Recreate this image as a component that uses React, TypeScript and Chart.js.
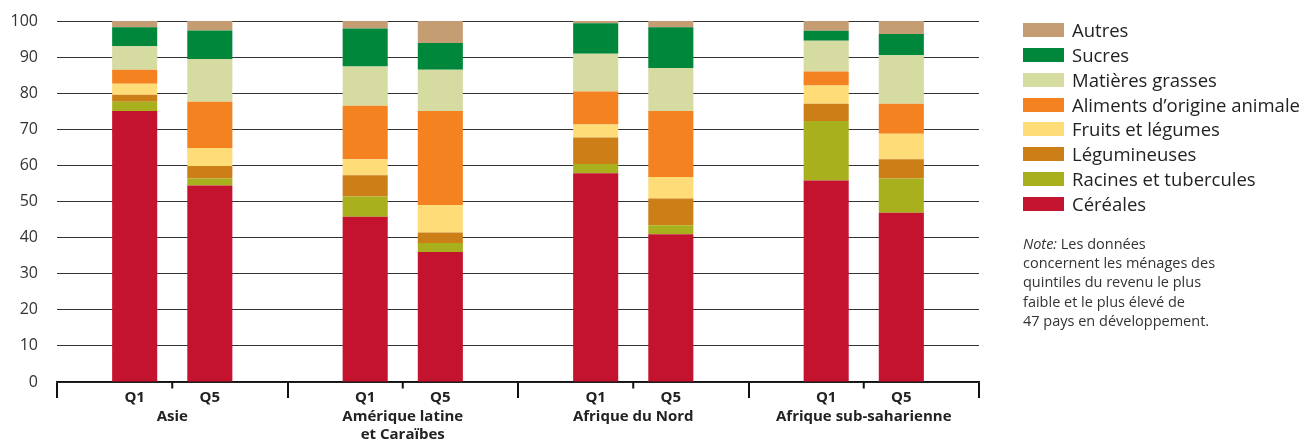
import React, { useEffect, useRef } from "react";
import { Chart, registerables } from "chart.js";

Chart.register(...registerables);

const regions = ["Asie", ["Amérique latine", "et Caraïbes"], "Afrique du Nord", "Afrique sub-saharienne"];
const quintiles = ["Q1", "Q5"];

// Food groups, bottom to top
const groups = [
  "Céréales",
  "Racines et tubercules",
  "Légumineuses",
  "Fruits et légumes",
  "Aliments d’origine animale",
  "Matières grasses",
  "Sucres",
  "Autres",
];
const colors = ["#C4132F", "#A8B11D", "#CD7F17", "#FEDC78", "#F58220", "#D5DBA1", "#00873C", "#C59D72"];

// Values per region [Asie, Amérique latine, Afrique du Nord, Afrique sub-saharienne]
const q1Cereales = [75.1, 45.8, 57.8, 55.8];
const q1Racines = [2.5, 5.6, 2.6, 16.5];
const q1Legumineuses = [2.0, 5.9, 7.3, 4.8];
const q1Fruits = [3.0, 4.4, 3.6, 5.0];
const q1Animale = [3.9, 14.8, 9.2, 3.9];
const q1Matieres = [6.5, 10.9, 10.4, 8.5];
const q1Sucres = [5.3, 10.5, 8.5, 2.8];
const q1Autres = [1.7, 2.1, 0.6, 2.7];

const q5Cereales = [54.4, 36.0, 40.9, 46.9];
const q5Racines = [2.0, 2.5, 2.5, 9.5];
const q5Legumineuses = [3.4, 2.9, 7.4, 5.3];
const q5Fruits = [5.0, 7.6, 6.0, 7.1];
const q5Animale = [12.8, 26.1, 18.3, 8.3];
const q5Matieres = [11.9, 11.4, 11.9, 13.4];
const q5Sucres = [7.9, 7.4, 11.3, 5.9];
const q5Autres = [2.6, 6.1, 1.7, 3.6];

const q1Series = [q1Cereales, q1Racines, q1Legumineuses, q1Fruits, q1Animale, q1Matieres, q1Sucres, q1Autres];
const q5Series = [q5Cereales, q5Racines, q5Legumineuses, q5Fruits, q5Animale, q5Matieres, q5Sucres, q5Autres];

const yTicks = [0, 10, 20, 30, 40, 50, 60, 70, 80, 90, 100];

const FONT = "'Open Sans', 'DejaVu Sans', sans-serif";

const noteLines = [
  "concernent les ménages des",
  "quintiles du revenu le plus",
  "faible et le plus élevé de",
  "47 pays en développement.",
];

export default function App() {
  const canvasRef = useRef<HTMLCanvasElement | null>(null);

  useEffect(() => {
    document.body.style.margin = "0";
    const canvas = canvasRef.current;
    if (!canvas) return;

    const datasets: any[] = [];
    [q1Series, q5Series].forEach((series, qi) => {
      series.forEach((data, gi) => {
        datasets.push({
          label: groups[gi],
          data,
          backgroundColor: colors[gi],
          borderWidth: 0,
          stack: quintiles[qi],
          categoryPercentage: 0.652,
          barPercentage: 0.6,
        });
      });
    });

    const extras = {
      id: "extras",
      afterDraw(chart: any) {
        const ctx = chart.ctx;
        const xs = chart.scales.x;
        const bottom = chart.chartArea.bottom;
        ctx.save();
        // short ticks between Q1 and Q5
        ctx.strokeStyle = "#111";
        ctx.lineWidth = 2;
        for (let i = 0; i < regions.length; i++) {
          const px = xs.getPixelForValue(i);
          ctx.beginPath();
          ctx.moveTo(px, bottom);
          ctx.lineTo(px, bottom + 6.5);
          ctx.stroke();
        }
        // Q1 / Q5 labels
        ctx.fillStyle = "#222";
        ctx.font = `bold 15px ${FONT}`;
        ctx.textAlign = "center";
        ctx.textBaseline = "middle";
        [0, groups.length].forEach((dsIndex, qi) => {
          const meta = chart.getDatasetMeta(dsIndex);
          meta.data.forEach((bar: any) => {
            ctx.fillText(quintiles[qi], bar.x, bottom + 15.5);
          });
        });
        ctx.restore();
      },
    };

    const chart = new Chart(canvas, {
      type: "bar",
      data: { labels: regions as any, datasets },
      plugins: [extras],
      options: {
        animation: false,
        responsive: false,
        maintainAspectRatio: false,
        layout: { padding: { top: 21, right: 325, left: 0, bottom: 0 } },
        plugins: { legend: { display: false }, tooltip: { enabled: false } },
        scales: {
          x: {
            stacked: true,
            afterFit(scale: any) {
              scale.height = 59;
              scale.paddingLeft = 0;
              scale.paddingRight = 0;
            },
            grid: {
              offset: true,
              drawOnChartArea: false,
              drawTicks: true,
              tickLength: 16,
              color: "#111",
              lineWidth: 2,
            },
            border: { display: true, color: "#111", width: 1.5 },
            ticks: {
              color: "#222",
              font: { family: FONT, size: 15, weight: "bold" },
              padding: 10,
              maxRotation: 0,
              autoSkip: false,
            },
          },
          y: {
            stacked: true,
            min: 0,
            max: 100,
            afterFit(scale: any) {
              scale.width = 57;
              scale.paddingTop = 0;
              scale.paddingBottom = 0;
            },
            afterBuildTicks(scale: any) {
              scale.ticks = yTicks.map((v) => ({ value: v }));
            },
            grid: { color: "#333", lineWidth: 1, drawTicks: false },
            border: { display: false },
            ticks: {
              color: "#333",
              font: { family: FONT, size: 16 },
              padding: 19,
            },
          },
        },
      },
    });
    return () => chart.destroy();
  }, []);

  const rowTop = 30;
  const rowStep = 24.85;
  const legendOrder = [...groups.keys()].reverse();

  return (
    <div style={{ position: "relative", width: 1304, height: 441, fontFamily: FONT, overflow: "hidden" }}>
      <canvas ref={canvasRef} width={1304} height={441} style={{ position: "absolute", left: 0, top: 0, width: 1304, height: 441 }} />
      {legendOrder.map((gi, i) => (
        <div key={groups[gi]}>
          <div
            style={{
              position: "absolute",
              left: 1023,
              top: rowTop + i * rowStep - 7,
              width: 41,
              height: 14,
              background: colors[gi],
            }}
          />
          <div
            style={{
              position: "absolute",
              left: 1072,
              top: rowTop + i * rowStep - 12,
              height: 24,
              lineHeight: "24px",
              fontSize: 18.5,
              color: "#222",
              whiteSpace: "nowrap",
            }}
          >
            {groups[gi]}
          </div>
        </div>
      ))}
      <div
        style={{
          position: "absolute",
          left: 1023,
          top: 234,
          fontSize: 14.5,
          lineHeight: "19.2px",
          color: "#333",
          whiteSpace: "nowrap",
        }}
      >
        <div>
          <i>Note:</i> Les données
        </div>
        {noteLines.map((l) => (
          <div key={l}>{l}</div>
        ))}
      </div>
    </div>
  );
}
